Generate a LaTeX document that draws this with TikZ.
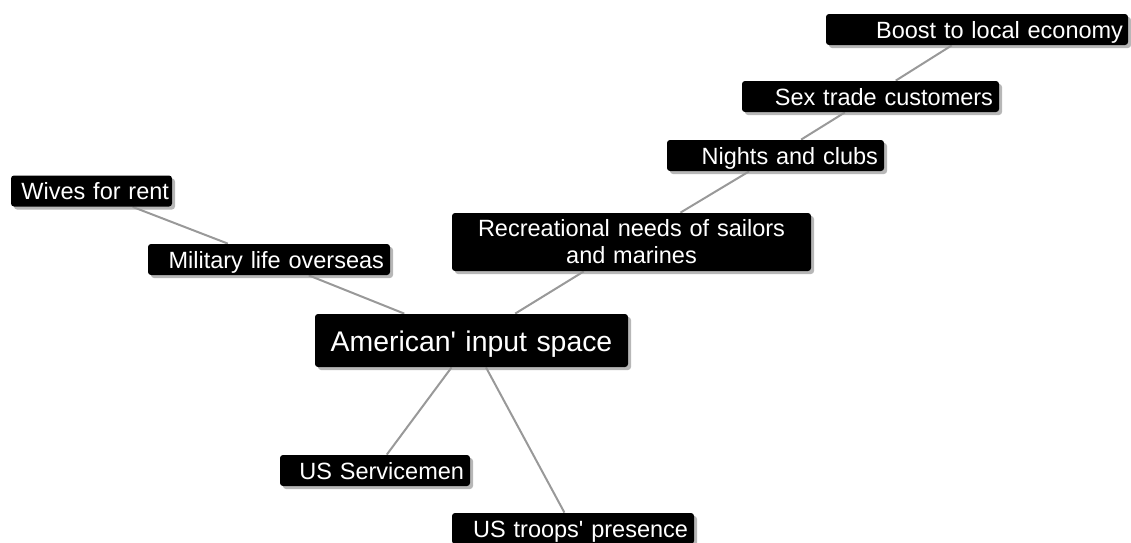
\documentclass[tikz,border=0pt]{standalone}
\usepackage{fontspec}
\setmainfont{Liberation Sans}[Ligatures=TeXOff]
\usetikzlibrary{positioning, shadows, backgrounds}

\begin{document}
\begin{tikzpicture}[x=1pt, y=-1pt, thick,
		box/.style={fill=black, text=white, rounded corners=3pt, inner xsep=6pt, inner ysep=0pt, minimum height=31pt, align=right, text height=18pt, text depth=1pt, font=\fontsize{23.5}{27}\selectfont, general shadow={fill=black!40, opacity=.7, shadow xshift=3pt, shadow yshift=-3pt}},
		link/.style={draw=gray!80, line width=2pt}]
			\useasboundingbox (0,0) rectangle (1131,542);
			\node[box, text width=292pt, inner xsep=5pt]	(boost)	at (977,29.5)	{Boost to local economy};
			\node[box, text width=245pt]	(sex)	at (870.5,96.5)	{Sex trade customers};
			\node[box, text width=205pt]	(night)	at (775.5,155.5)	{Nights and clubs};
			\node[box, text width=347pt, align=center, minimum height=58pt, text depth=30pt]	(recr)	at (631.5,242)	{Recreational needs of sailors\\and marines};
			\node[box, text width=155pt, inner xsep=3pt]	(wives)	at (91.5,191)	{Wives for rent};
			\node[box, text width=230pt]	(mil)	at (269,259.5)	{Military life overseas};
			\node[box, text width=301pt, align=center, minimum height=53pt, text height=21pt, text depth=0pt, font=\fontsize{28.4}{32}\selectfont]	(amer)	at (471.5,340.5)	{American' input space};
			\node[box, text width=178pt]	(serv)	at (375,470.5)	{US Servicemen};
			\node[box, text width=230pt]	(troop)	at (573,528.5)	{US troops' presence};

			%Ligacoes (atras das caixas):
			\begin{scope}[on background layer]
			\path[link] (amer) edge (recr)
				(recr) edge (night)
				(night) edge (sex)
				(sex) edge (boost)
				(amer) edge (mil)
				(mil) edge (wives)
				(amer) edge (serv)
				(amer) edge (troop);
			\end{scope}
		\end{tikzpicture}
\end{document}
